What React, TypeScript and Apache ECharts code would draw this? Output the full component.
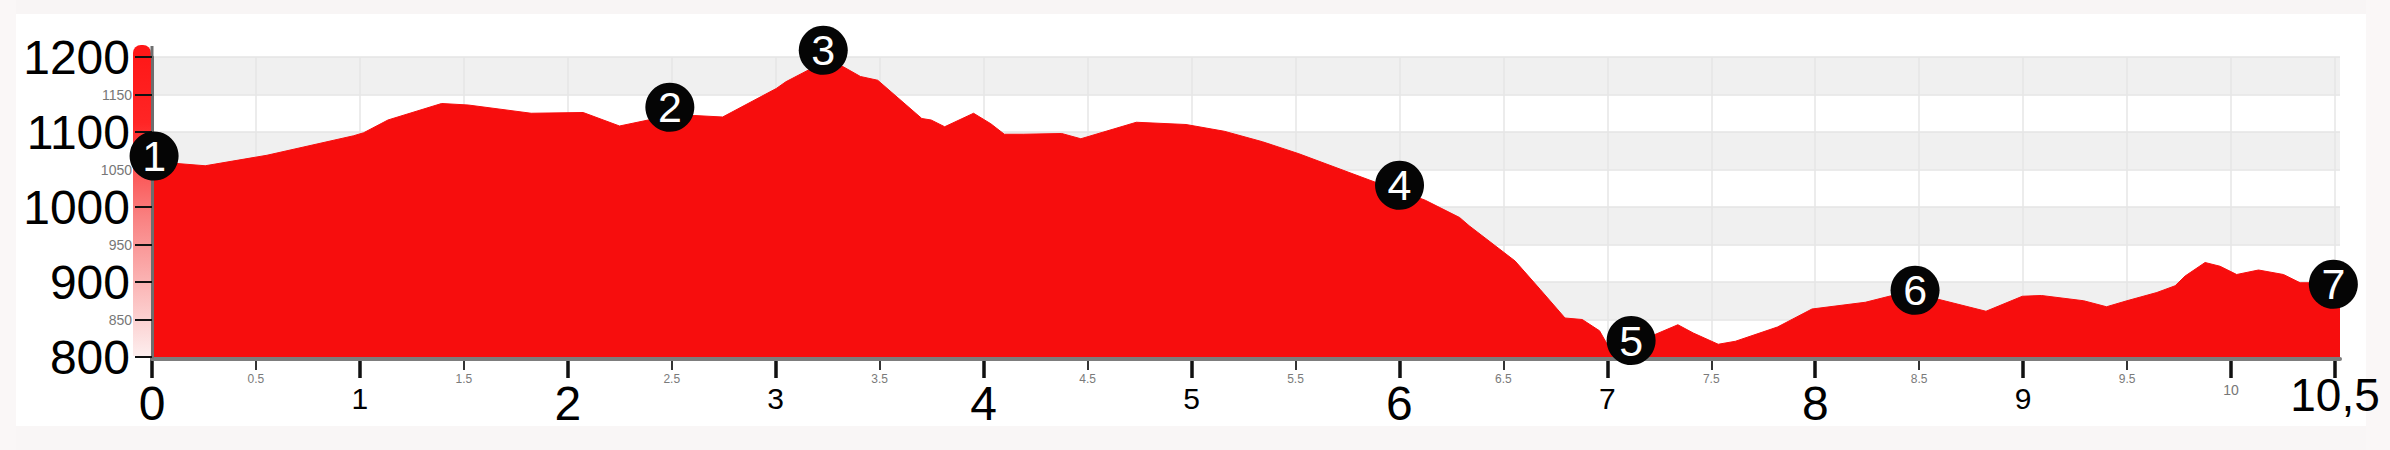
import React, { useEffect, useRef } from "react";
import * as echarts from "echarts";

// Elevation profile (distance in km, elevation in m)
const distanceKm = [
  0, 0.12, 0.256, 0.553, 0.97, 1.018, 1.135, 1.393, 1.521, 1.824, 2.074, 2.249, 2.387, 2.5, 2.608, 2.745,
  3.003, 3.049, 3.16, 3.307, 3.325, 3.408, 3.491, 3.703, 3.748, 3.813, 3.952, 4.035, 4.1, 4.191, 4.376,
  4.468, 4.735, 4.974, 5.158, 5.342, 5.517, 5.885, 6.0, 6.125, 6.29, 6.336, 6.557, 6.678, 6.797, 6.88,
  6.963, 7.0, 7.1, 7.23, 7.34, 7.414, 7.534, 7.617, 7.819, 7.985, 8.242, 8.371, 8.48, 8.592, 8.822, 8.997,
  9.089, 9.292, 9.402, 9.5, 9.644, 9.732, 9.78, 9.876, 9.948, 10.028, 10.133, 10.253, 10.333, 10.38, 10.525,
];
const elevationM = [
  1060, 1058, 1055, 1069, 1095, 1099, 1116, 1138, 1136, 1125, 1126, 1108, 1116, 1119, 1122, 1120,
  1158, 1167, 1183, 1189, 1187, 1174, 1169, 1118, 1116, 1107, 1125, 1111, 1097, 1097, 1098,
  1091, 1113, 1110, 1101, 1087, 1071, 1033, 1022, 1009, 986, 975, 928, 890, 852, 850,
  835, 817, 812, 830, 843, 832, 817, 821, 840, 864, 873, 882, 885, 877, 861, 881,
  882, 875, 867, 875, 886, 895, 908, 926, 921, 910, 916, 910, 899, 899, 897,
];

// Numbered waypoints
const markerKm = [0.01, 2.491, 3.229, 6.001, 7.115, 8.481, 10.493];
const markerElev = [1068, 1133, 1209, 1029, 822, 889, 897];
const markerLabels = ["1", "2", "3", "4", "5", "6", "7"];

// Axis settings
const xMin = 0;
const xMax = 10.5;
const yMin = 800;
const yMax = 1200;
const yStep = 50;

const FONT = "'Liberation Sans', Arial, sans-serif";
const RED = "#f70d0d";

export default function App() {
  const ref = useRef<HTMLDivElement>(null);

  useEffect(() => {
    document.body.style.margin = "0";
    if (!ref.current) return;
    const chart = echarts.init(ref.current, null, { renderer: "svg" });

    const profile = distanceKm.map((d, i) => [d, elevationM[i]]);
    const markers = markerKm.map((d, i) => [d, markerElev[i], markerLabels[i]]);

    const option: any = {
      animation: false,
      backgroundColor: "#ffffff",
      grid: [
        { left: 152, right: 55, top: 57, bottom: 93 },
        { left: 152, right: 50, top: 57, bottom: 93 },
      ],
      xAxis: [
        {
          gridIndex: 0,
          type: "value",
          position: "bottom",
          min: xMin,
          max: xMax,
          interval: 0.5,
          z: 1,
          axisLine: { show: false },
          axisTick: { show: true, length: 13, lineStyle: { color: "#333", width: 2 } },
          axisLabel: {
            margin: 16,
            fontSize: 12,
            lineHeight: 12,
            color: "#7a7a7a",
            fontFamily: FONT,
            formatter: (v: number) =>
              v < xMax - 0.01 && Math.abs(v - Math.round(v)) > 0.01 ? String(v) : "",
          },
          splitLine: { show: true, lineStyle: { color: "#e6e6e6", width: 1.5 } },
        },
        {
          gridIndex: 0,
          type: "value",
          position: "bottom",
          min: xMin,
          max: xMax,
          interval: 1,
          z: 1,
          axisLine: { show: false },
          axisTick: { show: true, length: 21, lineStyle: { color: "#111", width: 3.5 } },
          splitLine: { show: false },
          axisLabel: {
            margin: 22,
            showMaxLabel: true,
            showMinLabel: true,
            fontFamily: FONT,
            formatter: (v: number) => {
              if (Math.abs(v - 10.5) < 0.01) return "{c|10,5}";
              if (Math.abs(v - 10) < 0.01) return "{s|10}";
              const n = Math.round(v);
              return n % 2 === 0 ? "{b|" + n + "}" : "{m|" + n + "}";
            },
            rich: {
              b: { fontSize: 48, lineHeight: 49, color: "#000", fontFamily: FONT },
              m: { fontSize: 30, lineHeight: 38, color: "#000", fontFamily: FONT },
              s: { fontSize: 14, lineHeight: 22, color: "#777", fontFamily: FONT },
              c: {
                fontSize: 46,
                lineHeight: 31,
                color: "#000",
                fontFamily: "'Liberation Sans Narrow', 'Liberation Sans', Arial, sans-serif",
              },
            },
          },
        },
        {
          gridIndex: 1,
          type: "value",
          position: "bottom",
          min: xMin,
          max: 10.525,
          z: 3,
          offset: 2,
          axisLine: { show: true, lineStyle: { color: "#7d7d7d", width: 4 } },
          axisTick: { show: false },
          axisLabel: { show: false },
          splitLine: { show: false },
        },
      ],
      yAxis: [
        {
          gridIndex: 0,
          type: "value",
          position: "left",
          min: yMin,
          max: yMax,
          interval: yStep,
          z: 5,
          axisLine: { show: true, lineStyle: { color: "#6e6e6e", width: 3 } },
          axisTick: { show: true, length: 17, lineStyle: { color: "#111", width: 2 } },
          splitLine: { show: false },
          axisLabel: {
            margin: 20,
            fontFamily: FONT,
            formatter: (v: number) => (v % 100 === 0 ? "{b|" + v + "}" : "{s|" + v + "}"),
            rich: {
              b: { fontSize: 48, lineHeight: 48, color: "#000", fontFamily: FONT, padding: [0, 2, 0, 0] },
              s: { fontSize: 14, lineHeight: 16, color: "#777", fontFamily: FONT },
            },
          },
        },
        {
          gridIndex: 1,
          type: "value",
          position: "left",
          min: yMin,
          max: yMax,
          interval: yStep,
          z: 0,
          axisLine: { show: false },
          axisTick: { show: false },
          axisLabel: { show: false },
          splitLine: { show: true, lineStyle: { color: "#e4e4e4", width: 1.5 } },
          splitArea: { show: true, areaStyle: { color: ["#ffffff", "#f0f0f0"] } },
        },
      ],
      graphic: [
        { type: "rect", z: 0, shape: { x: 0, y: 0, width: 2390, height: 14 }, style: { fill: "#f8f5f5" } },
        { type: "rect", z: 0, shape: { x: 0, y: 426, width: 2390, height: 24 }, style: { fill: "#f9f6f6" } },
        { type: "rect", z: 0, shape: { x: 0, y: 0, width: 16, height: 450 }, style: { fill: "#faf7f7" } },
        { type: "rect", z: 0, shape: { x: 2366, y: 0, width: 24, height: 450 }, style: { fill: "#faf7f7" } },
        {
          type: "rect",
          z: 4,
          shape: { x: 133, y: 45, width: 18, height: 311, r: [8, 8, 0, 0] },
          style: {
            fill: new echarts.graphic.LinearGradient(0, 0, 0, 1, [
              { offset: 0, color: "#ff1616" },
              { offset: 0.25, color: "#ff2525" },
              { offset: 0.55, color: "#f98080" },
              { offset: 1, color: "#fdeeee" },
            ]),
          },
        },
        {
          type: "line",
          z: 5,
          shape: { x1: 152, y1: 46, x2: 152, y2: 58 },
          style: { stroke: "#6e6e6e", lineWidth: 3 },
        },
      ],
      series: [
        {
          type: "line",
          xAxisIndex: 2,
          yAxisIndex: 1,
          data: profile,
          symbol: "none",
          z: 2,
          lineStyle: { color: RED, width: 1 },
          areaStyle: { color: RED, opacity: 1 },
        },
        {
          type: "scatter",
          xAxisIndex: 2,
          yAxisIndex: 1,
          data: markers,
          clip: false,
          z: 6,
          symbol: "circle",
          symbolSize: 49,
          itemStyle: { color: "#050505", opacity: 1 },
          emphasis: { disabled: true },
          label: {
            show: true,
            position: "inside",
            color: "#ffffff",
            fontSize: 43,
            fontFamily: FONT,
            formatter: (p: any) => p.value[2],
          },
        },
      ],
    };

    chart.setOption(option);
    return () => chart.dispose();
  }, []);

  return <div ref={ref} style={{ width: 2390, height: 450 }} />;
}
